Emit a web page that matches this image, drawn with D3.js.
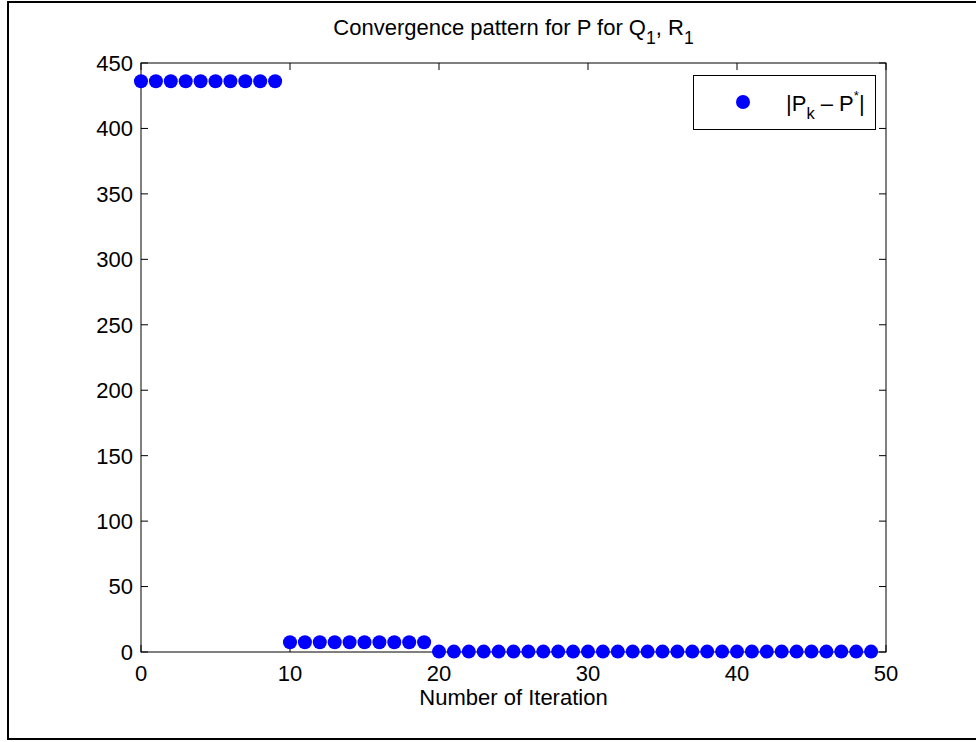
<!DOCTYPE html>
<html><head><meta charset="utf-8">
<script src="https://cdn.jsdelivr.net/npm/d3@7"></script>
<style>
html,body{margin:0;padding:0;background:#fff;}
svg{display:block;font-family:"Liberation Sans",Arial,sans-serif;}
</style></head>
<body><svg id="c" width="976" height="742"></svg>
<script>
const iterations = d3.range(0, 50);
const values = [
  436,436,436,436,436,436,436,436,436,436,
  7.4,7.4,7.4,7.4,7.4,7.4,7.4,7.4,7.4,7.4,
  0.3,0.3,0.3,0.3,0.3,0.3,0.3,0.3,0.3,0.3,
  0.3,0.3,0.3,0.3,0.3,0.3,0.3,0.3,0.3,0.3,
  0.3,0.3,0.3,0.3,0.3,0.3,0.3,0.3,0.3,0.3
];
const xTicks = [0,10,20,30,40,50];
const yTicks = [0,50,100,150,200,250,300,350,400,450];

const svg = d3.select("#c");
const L=141, R=886, T=63, B=652;
const fs = 22;
svg.append("rect").attr("x",8).attr("y",2).attr("width",980).attr("height",737)
  .attr("fill","none").attr("stroke","#000").attr("stroke-width",2);

const x = d3.scaleLinear().domain([0,50]).range([L,R]);
const y = d3.scaleLinear().domain([0,450]).range([B,T]);

const g = svg.append("g");
g.append("rect").attr("x",L).attr("y",T).attr("width",R-L).attr("height",B-T)
  .attr("fill","none").attr("stroke","#000").attr("stroke-width",1);

const tl = 7;
xTicks.forEach(t=>{
  g.append("line").attr("x1",x(t)).attr("x2",x(t)).attr("y1",B).attr("y2",B-tl).attr("stroke","#000");
  g.append("line").attr("x1",x(t)).attr("x2",x(t)).attr("y1",T).attr("y2",T+tl).attr("stroke","#000");
  g.append("text").attr("x",x(t)).attr("y",681).attr("text-anchor","middle").attr("font-size",fs).text(t);
});
yTicks.forEach(t=>{
  g.append("line").attr("x1",L).attr("x2",L+tl).attr("y1",y(t)).attr("y2",y(t)).attr("stroke","#000");
  g.append("line").attr("x1",R).attr("x2",R-tl).attr("y1",y(t)).attr("y2",y(t)).attr("stroke","#000");
  g.append("text").attr("x",133).attr("y",y(t)).attr("dy","0.36em").attr("text-anchor","end").attr("font-size",fs).text(t);
});

g.selectAll("circle.pt").data(iterations).enter().append("circle").attr("class","pt")
  .attr("cx",d=>x(d)).attr("cy",(d,i)=>y(values[i])).attr("r",7).attr("fill","#0000ff");

const title = svg.append("text").attr("x",(L+R)/2).attr("y",35).attr("text-anchor","middle").attr("font-size",fs);
title.append("tspan").text("Convergence pattern for P for Q");
title.append("tspan").attr("dy",9).attr("font-size",fs*0.8).text("1");
title.append("tspan").attr("dy",-9).text(", R");
title.append("tspan").attr("dy",9).attr("font-size",fs*0.8).text("1");

svg.append("text").attr("x",(L+R)/2).attr("y",705).attr("text-anchor","middle").attr("font-size",fs).text("Number of Iteration");

const lg = svg.append("g");
lg.append("rect").attr("x",693.5).attr("y",75.5).attr("width",182).attr("height",54)
  .attr("fill","#fff").attr("stroke","#000").attr("stroke-width",1);
lg.append("circle").attr("cx",743).attr("cy",102).attr("r",7).attr("fill","#0000ff");
const lt = lg.append("text").attr("x",786).attr("y",111).attr("font-size",fs);
lt.append("tspan").text("|P");
lt.append("tspan").attr("dy",8).attr("font-size",fs*0.75).text("k");
lt.append("tspan").attr("dy",-8).text(" \u2013 P");
lt.append("tspan").attr("dy",-11).attr("font-size",fs*0.6).text("*");
lt.append("tspan").attr("dy",11).text("|");
</script></body></html>
